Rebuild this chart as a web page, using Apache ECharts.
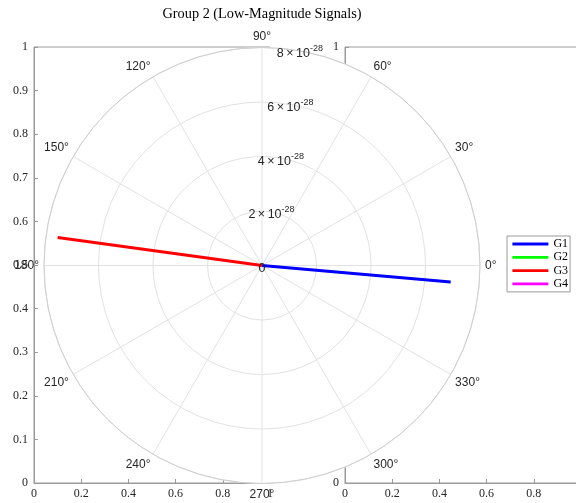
<!DOCTYPE html>
<html>
<head>
<meta charset="utf-8">
<title>Group 2 (Low-Magnitude Signals)</title>
<script src="https://cdn.jsdelivr.net/npm/echarts@6/dist/echarts.min.js"></script>
<style>
  html, body { margin: 0; padding: 0; background: #fff; }
  #chart { width: 576px; height: 503px; }
</style>
</head>
<body>
<div id="chart"></div>
<script>
// Signal groups drawn as rays from the origin (magnitude, angle in degrees)
const groupNames = ['G1', 'G2', 'G3', 'G4'];
const groupColors = ['#0000ff', '#00ff00', '#ff0000', '#ff00ff'];
const groupMagnitudes = [6.95e-28, 0, 7.57e-28, 0];
const groupAnglesDeg = [355.0, 0, 172.2, 0];

// Radial scale: tick values are expressed in units of 10^RADIUS_EXP
const RADIUS_EXP = -28;
const RADIUS_UNIT = Math.pow(10, RADIUS_EXP);
const radiusTickMax = 8;
const radiusTickStep = 2;

// Angular ticks (degrees)
const angleTickStep = 30;

// Background cartesian axes
const cartXTicks = [0, 0.2, 0.4, 0.6, 0.8, 1];
const cartYTicks = [0, 0.1, 0.2, 0.3, 0.4, 0.5, 0.6, 0.7, 0.8, 0.9, 1];

const serif = 'Liberation Serif';
const sans = 'Liberation Sans';
const textDark = '#262626';
const axisGray = '#9a9a9a';
const polarCenter = [262, 265.5];
const polarRadius = 218;

const chart = echarts.init(document.getElementById('chart'), null, { renderer: 'canvas' });

function cartX(gridIndex) {
  return {
    type: 'value', gridIndex, min: cartXTicks[0], max: cartXTicks[cartXTicks.length - 1],
    interval: cartXTicks[1] - cartXTicks[0], z: 0,
    axisLine: { show: true, lineStyle: { color: axisGray, width: 1 } },
    axisTick: { show: true, inside: true, length: 4, lineStyle: { color: axisGray } },
    splitLine: { show: false },
    axisLabel: { color: textDark, fontFamily: serif, fontSize: 12, margin: 5 }
  };
}
function cartY(gridIndex) {
  return {
    type: 'value', gridIndex, min: cartYTicks[0], max: cartYTicks[cartYTicks.length - 1],
    interval: cartYTicks[1] - cartYTicks[0], z: 0,
    axisLine: { show: true, lineStyle: { color: axisGray, width: 1 } },
    axisTick: { show: true, inside: true, length: 4, lineStyle: { color: axisGray } },
    splitLine: { show: false },
    axisLabel: { color: textDark, fontFamily: serif, fontSize: 12, margin: 6 }
  };
}

const raySeries = groupNames.map((name, i) => ({
  name,
  type: 'line',
  coordinateSystem: 'polar',
  polarIndex: 0,
  symbol: 'none',
  z: 4,
  animation: false,
  color: groupColors[i],
  lineStyle: { color: groupColors[i], width: 2.8 },
  data: [
    [0, groupAnglesDeg[i]],
    [groupMagnitudes[i] / RADIUS_UNIT, groupAnglesDeg[i]]
  ]
}));

const option = {
  backgroundColor: '#fff',
  animation: false,
  title: {
    text: 'Group 2 (Low-Magnitude Signals)',
    left: polarCenter[0], top: 7, textAlign: 'center', padding: 0,
    textStyle: { fontFamily: serif, fontSize: 14.3, fontWeight: 'normal', color: '#000' }
  },
  legend: {
    data: groupNames,
    orient: 'vertical',
    left: 507, top: 236,
    padding: [2, 2, 2, 4],
    itemWidth: 36, itemHeight: 12, itemGap: 1.3, itemTextGap: 1,
    itemStyle: { opacity: 0 },
    lineStyle: { width: 2.8 },
    backgroundColor: '#fff',
    borderColor: '#9a9a9a', borderWidth: 1, borderRadius: 0,
    textStyle: { fontFamily: serif, fontSize: 12, color: '#000' }
  },
  grid: [
    { left: 34, top: 47, width: 236, height: 436, outerBoundsMode: 'none', containLabel: false, show: true, borderColor: axisGray, borderWidth: 1, backgroundColor: 'transparent', z: 0 },
    { left: 345, top: 47, width: 236, height: 436, outerBoundsMode: 'none', containLabel: false, show: true, borderColor: axisGray, borderWidth: 1, backgroundColor: 'transparent', z: 0 }
  ],
  xAxis: [cartX(0), cartX(1)],
  yAxis: [cartY(0), cartY(1)],
  polar: [
    { center: polarCenter, radius: polarRadius },
    { center: polarCenter, radius: polarRadius }
  ],
  angleAxis: [
    {
      polarIndex: 0, type: 'value', min: 0, max: 360, interval: angleTickStep,
      startAngle: 0, clockwise: false, z: 2,
      axisLine: { show: true, lineStyle: { color: '#cfcfcf', width: 1 } },
      axisTick: { show: false },
      splitLine: { show: true, lineStyle: { color: '#e2e2e2', width: 1 } },
      axisLabel: { show: true, margin: 5, color: textDark, fontFamily: sans, fontSize: 12, formatter: '{value}°' }
    },
    {
      polarIndex: 1, type: 'value', min: 0, max: 360, startAngle: 80, clockwise: false, z: 2,
      axisLine: { show: false }, axisTick: { show: false }, splitLine: { show: false }, axisLabel: { show: false }
    }
  ],
  radiusAxis: [
    {
      polarIndex: 0, type: 'value', min: 0, max: radiusTickMax, interval: radiusTickStep, z: 2,
      axisLine: { show: false }, axisTick: { show: false }, axisLabel: { show: false },
      splitLine: { show: true, lineStyle: { color: '#e2e2e2', width: 1 } }
    },
    {
      polarIndex: 1, type: 'value', min: 0, max: radiusTickMax, interval: radiusTickStep, z: 5,
      axisLine: { show: false }, axisTick: { show: false }, splitLine: { show: false },
      axisLabel: {
        show: true, margin: 0, align: 'center', verticalAlign: 'middle',
        color: textDark, fontFamily: sans, fontSize: 12.5,
        formatter: function (v) {
          if (v === 0) return '{m|0}';
          return '{m|' + v + '\u2009\u00d7\u200910}{e|' + RADIUS_EXP + '}';
        },
        rich: {
          m: { fontFamily: sans, fontSize: 12.5, color: textDark, verticalAlign: 'bottom', lineHeight: 19 },
          e: { fontFamily: sans, fontSize: 9, color: textDark, verticalAlign: 'bottom', lineHeight: 19, padding: [0, 0, 7, 0] }
        }
      }
    }
  ],
  series: [
    {
      // white disc behind the polar grid
      type: 'pie', center: polarCenter, radius: polarRadius, silent: true, z: 1,
      animation: false, label: { show: false }, labelLine: { show: false },
      itemStyle: { color: '#fff', borderWidth: 0 },
      emphasis: { disabled: true },
      data: [{ value: 1, name: '' }]
    }
  ].concat(raySeries)
};

chart.setOption(option);
</script>
</body>
</html>
